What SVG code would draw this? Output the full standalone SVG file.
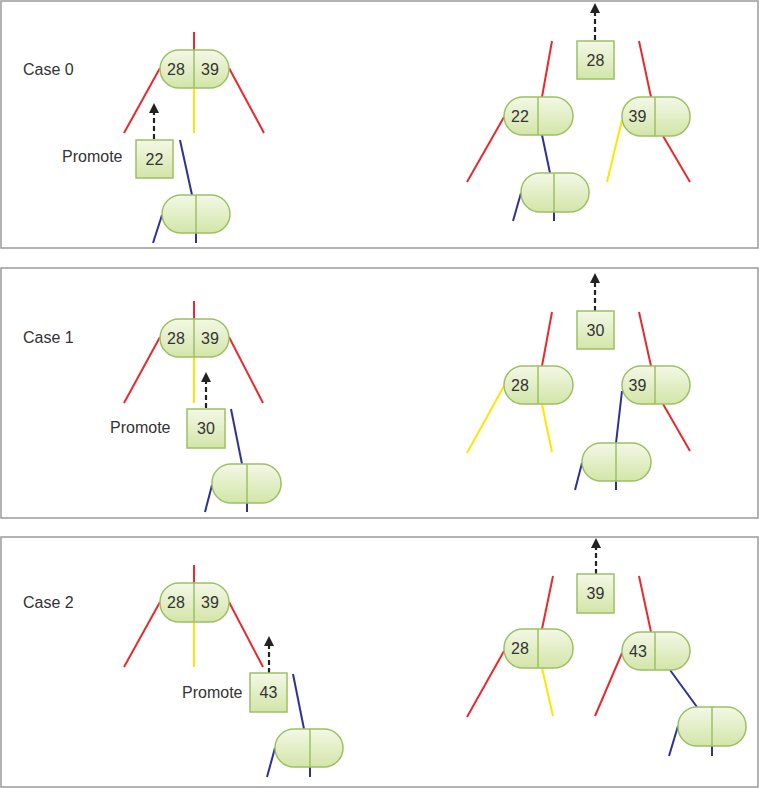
<svg xmlns="http://www.w3.org/2000/svg" width="759" height="788" viewBox="0 0 759 788">
<defs>
<linearGradient id="g" x1="0" y1="0" x2="0" y2="1">
<stop offset="0" stop-color="#f3f8e6"/>
<stop offset="1" stop-color="#d3e5a8"/>
</linearGradient>
<marker id="ah" viewBox="0 0 10 10" refX="0" refY="5" markerWidth="10" markerHeight="10" markerUnits="userSpaceOnUse" orient="auto">
<path d="M0,0 L10,5 L0,10 z" fill="#222"/>
</marker>
<style>
.panel{fill:#fff;stroke:#9a9a9a;stroke-width:1.5}
.r{stroke:#e62a2f;stroke-width:2;fill:none}
.y{stroke:#ffe500;stroke-width:2;fill:none}
.b{stroke:#2e3192;stroke-width:2;fill:none}
.arrow{stroke:#222;stroke-width:2.2;stroke-dasharray:5 3;fill:none;marker-end:url(#ah)}
.node{fill:url(#g);stroke:#9dc064;stroke-width:1.5}
.div{stroke:#9dc064;stroke-width:1.5}
text{font-family:"Liberation Sans",Arial,sans-serif;font-size:16px;fill:#333}
.c{text-anchor:middle}
</style>
</defs>
<g id="panels">
<rect class="panel" x="1" y="1" width="757" height="247"/>
<rect class="panel" x="1" y="268" width="757" height="250"/>
<rect class="panel" x="1" y="537" width="757" height="250"/>
</g>
<g id="labels">
<text x="23" y="75">Case 0</text>
<text x="62" y="162">Promote</text>
<text x="23" y="343">Case 1</text>
<text x="110" y="433">Promote</text>
<text x="23" y="608">Case 2</text>
<text x="182" y="698">Promote</text>
</g>
<g id="connectors">
<!-- panel 0 left -->
<line class="r" x1="194" y1="32" x2="194" y2="50"/>
<line class="r" x1="160" y1="68" x2="124" y2="133"/>
<line class="y" x1="194" y1="88" x2="194" y2="133"/>
<line class="r" x1="229" y1="68" x2="264" y2="133"/>
<line class="arrow" x1="154" y1="139" x2="154" y2="113"/>
<line class="b" x1="180" y1="140" x2="192" y2="195"/>
<line class="b" x1="162" y1="215" x2="153" y2="243"/>
<line class="b" x1="196" y1="233" x2="196" y2="243"/>
<!-- panel 0 right -->
<line class="arrow" x1="595" y1="40" x2="595" y2="13"/>
<line class="r" x1="552" y1="41" x2="542" y2="97"/>
<line class="r" x1="504" y1="117" x2="467" y2="182"/>
<line class="b" x1="542" y1="135" x2="550" y2="173"/>
<line class="b" x1="521" y1="193" x2="513" y2="221"/>
<line class="b" x1="554" y1="212" x2="554" y2="221"/>
<line class="r" x1="639" y1="41" x2="651" y2="97"/>
<line class="y" x1="622" y1="120" x2="607" y2="182"/>
<line class="r" x1="663" y1="136" x2="690" y2="182"/>
<!-- panel 1 left -->
<line class="r" x1="194" y1="301" x2="194" y2="319"/>
<line class="r" x1="160" y1="337" x2="124" y2="403"/>
<line class="y" x1="194" y1="357" x2="194" y2="403"/>
<line class="r" x1="229" y1="337" x2="263" y2="403"/>
<line class="arrow" x1="206" y1="408" x2="206" y2="382"/>
<line class="b" x1="231" y1="409" x2="242" y2="464"/>
<line class="b" x1="212" y1="485" x2="205" y2="512"/>
<line class="b" x1="247" y1="503" x2="247" y2="512"/>
<!-- panel 1 right -->
<line class="arrow" x1="595" y1="311" x2="595" y2="283"/>
<line class="r" x1="552" y1="312" x2="542" y2="366"/>
<line class="y" x1="504" y1="386" x2="467" y2="453"/>
<line class="y" x1="542" y1="404" x2="552" y2="452"/>
<line class="r" x1="639" y1="312" x2="651" y2="366"/>
<line class="r" x1="663" y1="404" x2="690" y2="451"/>
<line class="b" x1="622" y1="391" x2="616" y2="443"/>
<line class="b" x1="582" y1="463" x2="575" y2="490"/>
<line class="b" x1="616" y1="481" x2="616" y2="490"/>
<!-- panel 2 left -->
<line class="r" x1="194" y1="565" x2="194" y2="583"/>
<line class="r" x1="160" y1="602" x2="124" y2="667"/>
<line class="y" x1="194" y1="622" x2="194" y2="667"/>
<line class="r" x1="229" y1="602" x2="263" y2="667"/>
<line class="arrow" x1="269" y1="673" x2="269" y2="646"/>
<line class="b" x1="293" y1="674" x2="304" y2="729"/>
<line class="b" x1="275" y1="748" x2="267" y2="777"/>
<line class="b" x1="310" y1="767" x2="310" y2="777"/>
<!-- panel 2 right -->
<line class="arrow" x1="596" y1="574" x2="596" y2="548"/>
<line class="r" x1="553" y1="576" x2="542" y2="629"/>
<line class="r" x1="504" y1="651" x2="467" y2="717"/>
<line class="y" x1="542" y1="668" x2="553" y2="716"/>
<line class="r" x1="639" y1="576" x2="651" y2="632"/>
<line class="r" x1="622" y1="653" x2="595" y2="716"/>
<line class="b" x1="670" y1="670" x2="697" y2="707"/>
<line class="b" x1="678" y1="726" x2="669" y2="756"/>
<line class="b" x1="712" y1="746" x2="712" y2="756"/>
</g>
<!-- panel 0 nodes -->
<g id="p0-root"><rect class="node" x="160" y="50" width="69" height="38" rx="19"/><line class="div" x1="194" y1="50" x2="194" y2="88"/><text class="c" x="176" y="75">28</text><text class="c" x="210" y="75">39</text></g>
<g id="p0-promote"><rect class="node" x="136" y="140" width="37" height="38"/><text class="c" x="154.5" y="165">22</text></g>
<g id="p0-child"><rect class="node" x="162" y="195" width="68" height="38" rx="19"/><line class="div" x1="196" y1="195" x2="196" y2="233"/></g>
<g id="p0-up"><rect class="node" x="577" y="41" width="37" height="38"/><text class="c" x="595.5" y="66">28</text></g>
<g id="p0-left"><rect class="node" x="504" y="97" width="69" height="38" rx="19"/><line class="div" x1="538" y1="97" x2="538" y2="135"/><text class="c" x="520" y="122">22</text></g>
<g id="p0-leftchild"><rect class="node" x="521" y="173" width="68" height="39" rx="19"/><line class="div" x1="554" y1="173" x2="554" y2="212"/></g>
<g id="p0-right"><rect class="node" x="622" y="97" width="68" height="39" rx="19"/><line class="div" x1="655" y1="97" x2="655" y2="136"/><text class="c" x="637.5" y="122">39</text></g>
<!-- panel 1 nodes -->
<g id="p1-root"><rect class="node" x="160" y="319" width="69" height="38" rx="19"/><line class="div" x1="194" y1="319" x2="194" y2="357"/><text class="c" x="176" y="344">28</text><text class="c" x="210" y="344">39</text></g>
<g id="p1-promote"><rect class="node" x="187" y="409" width="38" height="39"/><text class="c" x="206" y="434">30</text></g>
<g id="p1-child"><rect class="node" x="212" y="464" width="69" height="39" rx="19"/><line class="div" x1="247" y1="464" x2="247" y2="503"/></g>
<g id="p1-up"><rect class="node" x="577" y="311" width="37" height="38"/><text class="c" x="595.5" y="336">30</text></g>
<g id="p1-left"><rect class="node" x="504" y="366" width="69" height="38" rx="19"/><line class="div" x1="538" y1="366" x2="538" y2="404"/><text class="c" x="520" y="391">28</text></g>
<g id="p1-right"><rect class="node" x="622" y="366" width="68" height="38" rx="19"/><line class="div" x1="655" y1="366" x2="655" y2="404"/><text class="c" x="637.5" y="391">39</text></g>
<g id="p1-rightchild"><rect class="node" x="582" y="443" width="69" height="38" rx="19"/><line class="div" x1="616" y1="443" x2="616" y2="481"/></g>
<!-- panel 2 nodes -->
<g id="p2-root"><rect class="node" x="160" y="583" width="69" height="39" rx="19"/><line class="div" x1="194" y1="583" x2="194" y2="622"/><text class="c" x="176" y="608">28</text><text class="c" x="210" y="608">39</text></g>
<g id="p2-promote"><rect class="node" x="250" y="673" width="37" height="39"/><text class="c" x="268.5" y="698">43</text></g>
<g id="p2-child"><rect class="node" x="275" y="729" width="68" height="38" rx="19"/><line class="div" x1="310" y1="729" x2="310" y2="767"/></g>
<g id="p2-up"><rect class="node" x="577" y="574" width="37" height="39"/><text class="c" x="595.5" y="599">39</text></g>
<g id="p2-left"><rect class="node" x="504" y="629" width="69" height="39" rx="19"/><line class="div" x1="538" y1="629" x2="538" y2="668"/><text class="c" x="520" y="654">28</text></g>
<g id="p2-right"><rect class="node" x="622" y="632" width="68" height="38" rx="19"/><line class="div" x1="655" y1="632" x2="655" y2="670"/><text class="c" x="638" y="657">43</text></g>
<g id="p2-rightchild"><rect class="node" x="678" y="707" width="68" height="39" rx="19"/><line class="div" x1="712" y1="707" x2="712" y2="746"/></g>
</svg>
